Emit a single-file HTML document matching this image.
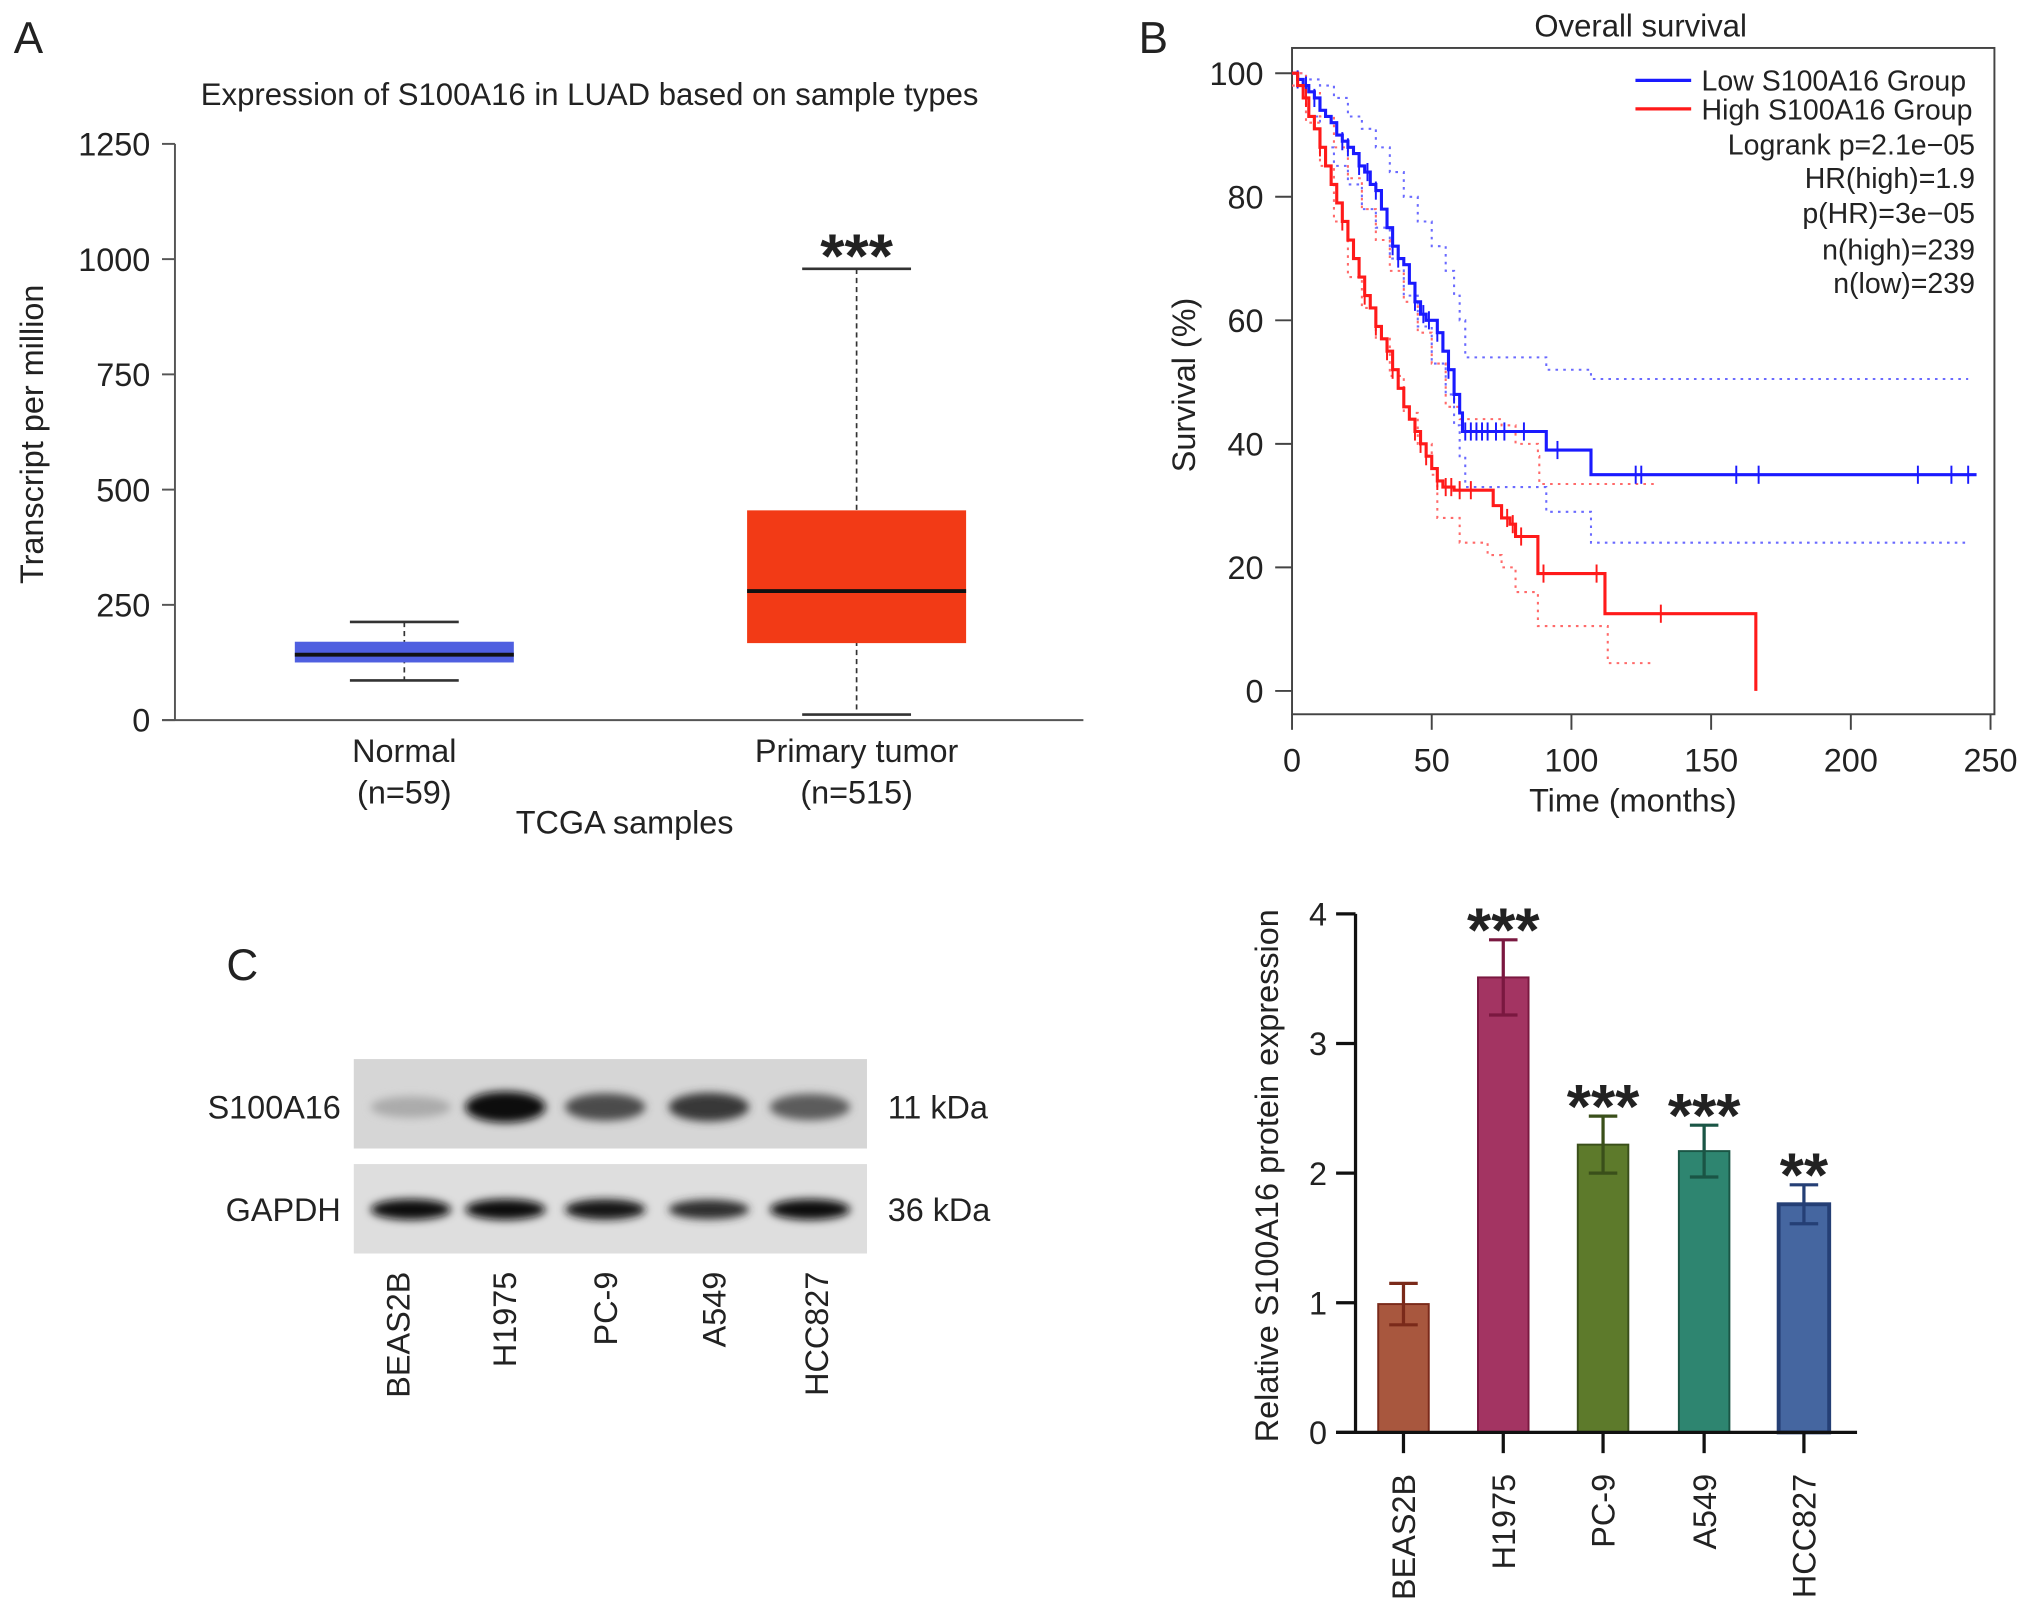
<!DOCTYPE html>
<html><head><meta charset="utf-8"><style>
html,body{margin:0;padding:0;background:#fff}
svg{display:block}
text{font-family:"Liberation Sans",Arial,sans-serif;fill:#222}
</style></head><body>
<svg id="fig" xmlns="http://www.w3.org/2000/svg" width="2032" height="1610" viewBox="0 0 1568 1242" preserveAspectRatio="none">
<defs>
<filter id="blur" x="-30%" y="-80%" width="160%" height="260%"><feGaussianBlur stdDeviation="3.2"/></filter>
</defs>
<rect width="1568" height="1242" fill="#fff"/>
<g id="pA"></g>
<g id="pB"></g>
<g id="pC"></g>
<g id="pD"></g>
</svg>
<script>
// ---------- Panel A data ----------
const boxGroups = ["Normal", "Primary tumor"];
const boxN = ["(n=59)", "(n=515)"];
const boxMin = [86, 12];
const boxQ1 = [125, 167];
const boxMedian = [142, 280];
const boxQ3 = [170, 455];
const boxMax = [213, 979];
const boxColors = ["#4f5fe0", "#f23a16"];
const tpmTicks = [0, 250, 500, 750, 1000, 1250];

// ---------- Panel B data ----------
const lowT = [0,2,4,6,8,10,12,14,16,18,20,22,24,26,28,30,32,34,36,38,40,42,44,46,48,52,54,56,58,60,61,91,107,245];
const lowS = [100,99,98,97,96,94,93,92,90,89,88,87,85,84,82,81,78,75,72,70,69,66,63,61,60,58,55,52,48,45,42,39,35,35];
const highT = [0,2,4,6,8,10,12,14,16,18,20,22,24,26,28,30,32,34,36,38,40,42,44,46,48,50,52,54,58,72,75,78,80,88,112,166,166];
const highS = [100,98,96,93,91,88,85,82,79,76,73,70,67,64,62,59,57,55,52,49,46,44,42,40,38,36,34,33,32.5,30,28,27,25,19,12.5,12.5,0];
const lowUpT = [0,5,10,15,20,25,30,35,40,45,50,55,58,60,62,90,91,106,107,242];
const lowUpS = [100,99,98,96,93,91,88,84,80,76,72,68,64,60,54,54,52,52,50.5,50.5];
const lowLoT = [0,5,10,15,20,25,30,35,40,45,50,55,58,60,62,90,91,106,107,241];
const lowLoS = [98,93,88,85,82,78,75,70,64,59,53,48,43,38,33,33,29,29,24,24];
const highUpT = [0,5,10,15,20,25,30,35,40,45,50,55,60,75,80,88,88.5,130];
const highUpS = [100,97,93,88,83,78,73,68,63,58,53,46,44,43,40,38,33.5,33.5];
const highLoT = [0,5,10,15,20,25,30,35,40,45,50,52,60,70,75,80,88,112,113,130];
const highLoS = [98,92,85,76,67,62,57,51,45,40,35,28,24,22,20,16,10.5,10.5,4.5,4.5];
const lowCens = [2,5,8,18,20,24,27,30,36,38,44,47,49,52,56,58,62,64,66,68,70,73,76,83,95,123,125,159,167,224,236,242];
const highCens = [5,10,18,26,30,34,36,44,46,48,52,55,57,60,64,77,79,82,90,109,132];
const survXTicks = [0,50,100,150,200,250];
const survYTicks = [0,20,40,60,80,100];
const legendStats = ["Logrank p=2.1e\u221205","HR(high)=1.9","p(HR)=3e\u221205","n(high)=239","n(low)=239"];

// ---------- Panel C blot data ----------
const cellLines = ["BEAS2B","H1975","PC-9","A549","HCC827"];
const s100Intensity = [0.22, 1.0, 0.7, 0.8, 0.62];
const gapdhIntensity = [1.0, 1.0, 0.95, 0.85, 1.0];

// ---------- Bar chart data ----------
const barValues = [0.99, 3.51, 2.22, 2.17, 1.76];
const barErrors = [0.16, 0.29, 0.22, 0.20, 0.15];
const barStars = ["", "***", "***", "***", "**"];
const barFill = ["#a8573e","#a33462","#5d7a2b","#2e8570","#4566a0"];
const barStroke = ["#7a2a1a","#7a1840","#3a4f1a","#1a5545","#253f75"];
const barTicks = [0,1,2,3,4];

const NS = "http://www.w3.org/2000/svg";
function mk(parent, tag, attrs, txt) {
  const e = document.createElementNS(NS, tag);
  for (const k in attrs) e.setAttribute(k, attrs[k]);
  if (txt !== undefined) e.textContent = txt;
  parent.appendChild(e);
  return e;
}

// ===== Panel A =====
(function(){
  const g = document.getElementById('pA');
  const y = v => 555.5 - v * (555.5 - 111) / 1250;
  const xs = [312, 661];
  let t = mk(g,'text',{x:22,y:41,'font-size':34,'text-anchor':'middle'},'A');
   
  t = mk(g,'text',{x:455,y:81,'font-size':24,'text-anchor':'middle'},'Expression of S100A16 in LUAD based on sample types');
   
  let l = mk(g,'line',{x1:135,y1:111,x2:135,y2:555.5,stroke:'#555','stroke-width':1.5});
   
  l = mk(g,'line',{x1:125,y1:555.5,x2:836,y2:555.5,stroke:'#555','stroke-width':1.5});
   
  tpmTicks.forEach(v=>{
    const tk = mk(g,'line',{x1:125,y1:y(v),x2:135,y2:y(v),stroke:'#555','stroke-width':1.5});
     
    const tl = mk(g,'text',{x:116,y:y(v)+9,'font-size':25,'text-anchor':'end'},String(v));
     
  });
  t = mk(g,'text',{x:0,y:0,'font-size':25,'text-anchor':'middle',transform:'translate(33,335) rotate(-90)'},'Transcript per million');
   
  boxGroups.forEach((name,i)=>{
    const cx = xs[i], hw = 84.5, cw = 42;
    const gg = mk(g,'g',{});
     
    mk(gg,'line',{x1:cx,y1:y(boxMax[i]),x2:cx,y2:y(boxMin[i]),stroke:'#333','stroke-width':1.3,'stroke-dasharray':'4,3'});
    mk(gg,'line',{x1:cx-cw,y1:y(boxMax[i]),x2:cx+cw,y2:y(boxMax[i]),stroke:'#333','stroke-width':2});
    mk(gg,'line',{x1:cx-cw,y1:y(boxMin[i]),x2:cx+cw,y2:y(boxMin[i]),stroke:'#333','stroke-width':2});
    mk(gg,'rect',{x:cx-hw,y:y(boxQ3[i]),width:hw*2,height:y(boxQ1[i])-y(boxQ3[i]),fill:boxColors[i]});
    mk(gg,'line',{x1:cx-hw,y1:y(boxMedian[i]),x2:cx+hw,y2:y(boxMedian[i]),stroke:'#111','stroke-width':3});
    const c1 = mk(g,'text',{x:cx,y:588,'font-size':25,'text-anchor':'middle'},name);
     
    const c2 = mk(g,'text',{x:cx,y:620,'font-size':25,'text-anchor':'middle'},boxN[i]);
     
  });
  t = mk(g,'text',{x:661,y:214,'font-size':48,'font-weight':'bold','text-anchor':'middle'},'***');
   
  t = mk(g,'text',{x:482,y:643,'font-size':25,'text-anchor':'middle'},'TCGA samples');
   
})();

// ===== Panel B =====
(function(){
  const g = document.getElementById('pB');
  const x = m => 997 + m * (1536 - 997) / 250;
  const y = s => 533 - s * (533 - 56.5) / 100;
  let t = mk(g,'text',{x:890,y:41,'font-size':34,'text-anchor':'middle'},'B');
   
  t = mk(g,'text',{x:1266,y:28,'font-size':24,'text-anchor':'middle'},'Overall survival');
   
  let r = mk(g,'rect',{x:997,y:37,width:542,height:514,fill:'none',stroke:'#444','stroke-width':1.5});
   
  survYTicks.forEach(v=>{
    const tk = mk(g,'line',{x1:984,y1:y(v),x2:997,y2:y(v),stroke:'#444','stroke-width':1.5});
     
    const tl = mk(g,'text',{x:975,y:y(v)+9,'font-size':25,'text-anchor':'end'},String(v));
     
  });
  survXTicks.forEach(v=>{
    const tk = mk(g,'line',{x1:x(v),y1:551,x2:x(v),y2:563,stroke:'#444','stroke-width':1.5});
     
    const tl = mk(g,'text',{x:x(v),y:595,'font-size':25,'text-anchor':'middle'},String(v));
     
  });
  t = mk(g,'text',{x:1260,y:626,'font-size':25,'text-anchor':'middle'},'Time (months)');
   
  t = mk(g,'text',{x:0,y:0,'font-size':25,'text-anchor':'middle',transform:'translate(922,297) rotate(-90)'},'Survival (%)');
   

  function stepPath(T,S){
    let d = 'M'+x(T[0])+','+y(S[0]);
    for (let i=1;i<T.length;i++){ d += ' H'+x(T[i])+' V'+y(S[i]); }
    return d;
  }
  function survAt(T,S,m){ let s=S[0]; for(let i=0;i<T.length;i++){ if(T[i]<=m) s=S[i]; } return s; }
  const bands = [[lowUpT,lowUpS,'#6a6aff','ci-low-upper'],[lowLoT,lowLoS,'#6a6aff','ci-low-lower'],
                 [highUpT,highUpS,'#ff6a6a','ci-high-upper'],[highLoT,highLoS,'#ff6a6a','ci-high-lower']];
  bands.forEach(b=>{
    const p = mk(g,'path',{d:stepPath(b[0],b[1]),fill:'none',stroke:b[2],'stroke-width':1.6,'stroke-dasharray':'2,4'});
     
  });
  const curves = [[lowT,lowS,lowCens,'#1a1aff','low-group-curve'],[highT,highS,highCens,'#ff1a1a','high-group-curve']];
  curves.forEach(c=>{
    const p = mk(g,'path',{d:stepPath(c[0],c[1]),fill:'none',stroke:c[3],'stroke-width':2.4});
     
    c[2].forEach(m=>{
      const yy = y(survAt(c[0],c[1],m));
      const cm = mk(g,'line',{x1:x(m),y1:yy-7,x2:x(m),y2:yy+7,stroke:c[3],'stroke-width':1.5});
       
    });
  });
  const lg = mk(g,'g',{});
   
  const le = [['#1a1aff','Low S100A16 Group',62],['#ff1a1a','High S100A16 Group',84]];
  le.forEach(e=>{
    const ln = mk(lg,'line',{x1:1262,y1:e[2],x2:1305,y2:e[2],stroke:e[0],'stroke-width':2.5});
     
    const tx = mk(lg,'text',{x:1313,y:e[2]+8,'font-size':22},e[1]);
     
  });
  const sy = [111,137,164,192,218];
  legendStats.forEach((s,i)=>{
    const tx = mk(lg,'text',{x:1524,y:sy[i]+8,'font-size':22,'text-anchor':'end'},s);
     
  });
})();

// ===== Panel C blot =====
(function(){
  const g = document.getElementById('pC');
  const lanes = [317,390,467,547,625];
  const labX = [307,389,467,551,630];
  let t = mk(g,'text',{x:187,y:756,'font-size':34,'text-anchor':'middle'},'C');
   
  const blots = [[817,886,'#d6d6d6',854,s100Intensity,'S100A16','11 kDa','s100a16-blot',12],
                 [898,967,'#dedede',933,gapdhIntensity,'GAPDH','36 kDa','gapdh-blot',8]];
  blots.forEach(b=>{
    const bg = mk(g,'g',{});
     
    mk(bg,'rect',{x:273,y:b[0],width:396,height:b[1]-b[0],fill:b[2]});
    b[4].forEach((v,i)=>{
      const c = Math.round(215 - v*200);
      const band = mk(bg,'ellipse',{cx:lanes[i],cy:b[3],rx:31,ry:b[8]*(0.6+0.4*v),fill:'rgb('+c+','+c+','+c+')',filter:'url(#blur)'});
       
    });
    const a = mk(g,'text',{x:263,y:b[3]+9,'font-size':25,'text-anchor':'end'},b[5]);
     
    const k = mk(g,'text',{x:685,y:b[3]+9,'font-size':25},b[6]);
     
  });
  cellLines.forEach((n,i)=>{
    const tx = mk(g,'text',{x:0,y:0,'font-size':25,'text-anchor':'end',transform:'translate('+(labX[i]+9)+',981) rotate(-90)'},n);
     
  });
})();

// ===== Bar chart =====
(function(){
  const g = document.getElementById('pD');
  const y = v => 1105 - v * (1105 - 705) / 4;
  const xc = [1083,1160,1237,1315,1392];
  const bw = 39;
  let l = mk(g,'line',{x1:1046,y1:705,x2:1046,y2:1105,stroke:'#111','stroke-width':2.5});
   
  barTicks.forEach(v=>{
    const tk = mk(g,'line',{x1:1031,y1:y(v),x2:1046,y2:y(v),stroke:'#111','stroke-width':2.5});
     
    const tl = mk(g,'text',{x:1024,y:y(v)+9,'font-size':25,'text-anchor':'end'},String(v));
     
  });
  const t = mk(g,'text',{x:0,y:0,'font-size':25,'text-anchor':'middle',transform:'translate(986,907) rotate(-90)'},'Relative S100A16 protein expression');
   
  barValues.forEach((v,i)=>{
    const cx = xc[i];
    const b = mk(g,'rect',{x:cx-bw/2,y:y(v),width:bw,height:y(0)-y(v),fill:barFill[i],stroke:barStroke[i],'stroke-width':i===4?3:1.5});
     
    const eb = mk(g,'g',{stroke:barStroke[i],'stroke-width':2.5});
     
    mk(eb,'line',{x1:cx,y1:y(v+barErrors[i]),x2:cx,y2:y(v-barErrors[i])});
    mk(eb,'line',{x1:cx-11,y1:y(v+barErrors[i]),x2:cx+11,y2:y(v+barErrors[i])});
    mk(eb,'line',{x1:cx-11,y1:y(v-barErrors[i]),x2:cx+11,y2:y(v-barErrors[i])});
    if (barStars[i]) {
      const s = mk(g,'text',{x:cx,y:y(v+barErrors[i])+9,'font-size':48,'font-weight':'bold','text-anchor':'middle'},barStars[i]);
       
    }
    const tk = mk(g,'line',{x1:cx,y1:1105,x2:cx,y2:1121,stroke:'#111','stroke-width':2.5});
     
    const tl = mk(g,'text',{x:0,y:0,'font-size':25,'text-anchor':'end',transform:'translate('+(cx+9)+',1137) rotate(-90)'},cellLines[i]);
     
  });
  l = mk(g,'line',{x1:1031,y1:1105,x2:1433,y2:1105,stroke:'#111','stroke-width':2.5});
   
})();
</script>
</body></html>
